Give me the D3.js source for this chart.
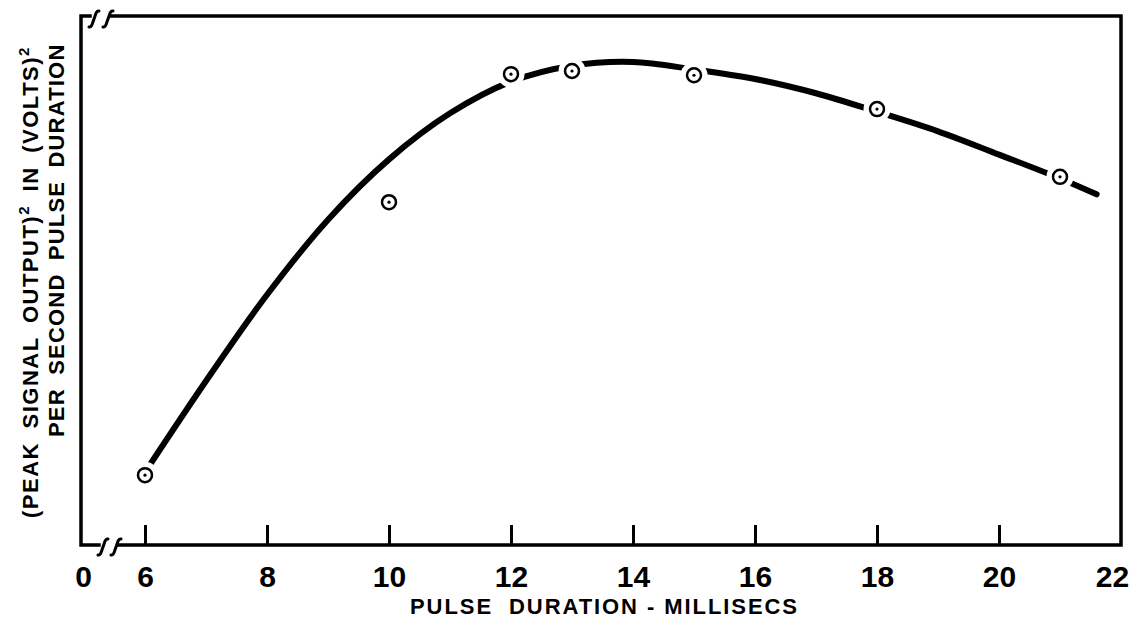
<!DOCTYPE html>
<html>
<head>
<meta charset="utf-8">
<script src="https://cdn.jsdelivr.net/npm/d3@7"></script>
<style>
	body { margin: 0; background: #fff; }
	text { font-family: "Liberation Sans", Arial, sans-serif; fill: #000; font-weight: bold; }
</style>
</head>
<body>
<script>
// measured points (pulse duration in ms, relative output)
var pointX = [6, 10, 12, 13, 15, 18, 21];
var pointY = [13.2, 64.8, 89.0, 89.6, 88.8, 82.4, 69.6];

// faired curve drawn through the data
var curveX = [6.1, 7, 8, 9, 10, 11, 12, 13, 14, 15, 16, 17, 18, 19, 20, 21, 21.6];
var curveY = [15.5, 31.0, 47.3, 61.5, 72.9, 81.6, 87.6, 90.6, 91.3, 89.9, 88.1, 85.4, 81.9, 78.2, 73.8, 69.3, 66.3];

var tickValues = [0, 6, 8, 10, 12, 14, 16, 18, 20, 22];
var xTitle = "PULSE  DURATION - MILLISECS";

var width = 1140;
var height = 626;

var plotLeft = 81, plotRight = 1121, plotTop = 16, plotBottom = 545;

var svg = d3
	.select("body")
	.append("svg")
	.attr("width", width)
	.attr("height", height);

// broken axis: 0 sits at the frame corner, real scale starts at 6
var x = d3.scaleLinear().domain([0, 6, 22]).range([83, 145, plotRight]);
var y = d3.scaleLinear().domain([0, 100]).range([plotBottom, plotTop]);

// frame with gaps for the break marks
var frame = svg.append("g")
	.attr("fill", "none")
	.attr("stroke", "#000")
	.attr("stroke-width", 3.5)
	.attr("stroke-linecap", "square");

frame.append("path").attr("d",
	"M90," + plotTop + "H" + plotLeft + "V" + plotBottom + "H99");
frame.append("path").attr("d",
	"M118," + plotBottom + "H" + plotRight + "V" + plotTop + "H111");

// break marks
function breakMark(cx, cy) {
	return "M" + (cx - 5) + "," + (cy + 8) +
		"C" + (cx - 2) + "," + (cy + 9) + " " + (cx - 1) + "," + (cy + 2) + " " + cx + "," + cy +
		"C" + (cx + 1) + "," + (cy - 2) + " " + (cx + 2) + "," + (cy - 9) + " " + (cx + 5) + "," + (cy - 8);
}
[[94, plotTop + 3], [108, plotTop + 3], [103, plotBottom + 2], [116, plotBottom + 2]].forEach(function (p) {
	frame.append("path")
		.attr("d", breakMark(p[0], p[1]))
		.attr("stroke-width", 3)
		.attr("stroke-linecap", "round");
});

// x axis ticks pointing inward
var axis = svg.append("g")
	.attr("transform", "translate(0," + plotBottom + ")")
	.call(d3.axisBottom(x)
		.tickValues(tickValues)
		.tickFormat(d3.format("d"))
		.tickSizeInner(-20)
		.tickSizeOuter(0)
		.tickPadding(20));

axis.select(".domain").remove();
axis.selectAll(".tick line")
	.attr("stroke", "#000")
	.attr("stroke-width", 3)
	.filter(function (d) { return d === 0 || d === 22; })
	.remove();
axis.selectAll(".tick text")
	.attr("fill", "#000")
	.style("font-size", "30px")
	.style("font-weight", "bold")
	.style("font-family", "'Liberation Sans', Arial, sans-serif")
	.attr("dy", "0.72em")
	.attr("dx", function (d) { return d === 22 ? -9 : 0; });

svg.append("text")
	.attr("x", 410)
	.attr("y", 614)
	.attr("textLength", 387)
	.attr("lengthAdjust", "spacing")
	.style("font-size", "22px")
	.style("white-space", "pre")
	.text(xTitle);

// y title, two rotated lines
var t1 = svg.append("text")
	.attr("transform", "translate(38,518) rotate(-90)")
	.style("font-size", "22px")
	.style("letter-spacing", "1.5px")
	.style("word-spacing", "6px");
t1.append("tspan").text("(PEAK SIGNAL OUTPUT)");
t1.append("tspan").attr("dy", -9).style("font-size", "15px").text("2");
t1.append("tspan").attr("dy", 9).text(" IN (VOLTS)");
t1.append("tspan").attr("dy", -9).style("font-size", "15px").text("2");

svg.append("text")
	.attr("transform", "translate(64,437) rotate(-90)")
	.style("font-size", "22px")
	.style("letter-spacing", "1.2px")
	.style("word-spacing", "6px")
	.text("PER SECOND PULSE DURATION");

// curve
var line = d3.line()
	.x(function (d) { return x(d[0]); })
	.y(function (d) { return y(d[1]); })
	.curve(d3.curveCatmullRom);

svg.append("path")
	.datum(d3.zip(curveX, curveY))
	.attr("fill", "none")
	.attr("stroke", "#000")
	.attr("stroke-width", 6)
	.attr("stroke-linecap", "round")
	.attr("d", line);

var points = d3.zip(pointX, pointY);

// white gap around each marker
svg.selectAll("circle.gap")
	.data(points)
	.enter()
	.append("circle")
	.attr("class", "gap")
	.attr("cx", function (d) { return x(d[0]); })
	.attr("cy", function (d) { return y(d[1]); })
	.attr("r", 13.5)
	.attr("fill", "#fff");

svg.selectAll("circle.pt")
	.data(points)
	.enter()
	.append("circle")
	.attr("class", "pt")
	.attr("cx", function (d) { return x(d[0]); })
	.attr("cy", function (d) { return y(d[1]); })
	.attr("r", 7)
	.attr("fill", "#fff")
	.attr("stroke", "#000")
	.attr("stroke-width", 2.5);

svg.selectAll("circle.dot")
	.data(points)
	.enter()
	.append("circle")
	.attr("class", "dot")
	.attr("cx", function (d) { return x(d[0]); })
	.attr("cy", function (d) { return y(d[1]); })
	.attr("r", 1.6)
	.attr("fill", "#000");
</script>
</body>
</html>
